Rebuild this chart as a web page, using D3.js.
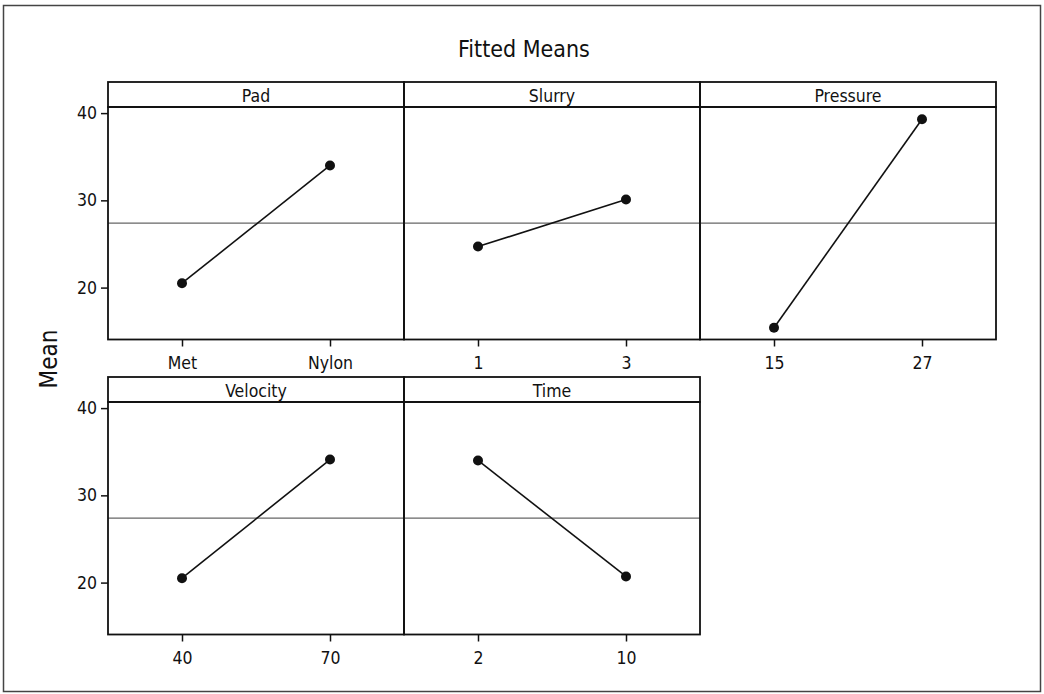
<!DOCTYPE html>
<html>
<head>
<meta charset="utf-8">
<script src="https://cdn.jsdelivr.net/npm/d3@7"></script>
<style>
  html, body { margin: 0; padding: 0; background: #fff; }
  svg text { font-family: "DejaVu Sans Condensed", "DejaVu Sans", Tahoma, sans-serif; font-stretch: condensed; fill: #111; }
</style>
</head>
<body>
<svg id="chart" width="1044" height="694"></svg>
<script>
// Main-effects panels: fitted mean response at the low and high level of each factor
const factors = ["Pad", "Slurry", "Pressure", "Velocity", "Time"];
const levels = [["Met", "Nylon"], ["1", "3"], ["15", "27"], ["40", "70"], ["2", "10"]];
const fittedMeans = [[20.5, 34.0], [24.7, 30.1], [15.4, 39.3], [20.5, 34.1], [34.0, 20.7]];
const grandMean = 27.4;
const yTicks = [20, 30, 40];

const W = 1044, H = 694;
const svg = d3.select("#chart");

// Page frame
svg.append("rect")
  .attr("x", 3.5).attr("y", 5.5).attr("width", 1037).attr("height", 686)
  .attr("fill", "#fff").attr("stroke", "#444").attr("stroke-width", 1.5);

// Title and shared y-axis label
svg.append("text")
  .attr("x", W / 2 + 2).attr("y", 57)
  .attr("text-anchor", "middle").attr("font-size", 23)
  .text("Fitted Means");

svg.append("text")
  .attr("transform", "translate(57,359) rotate(-90)")
  .attr("text-anchor", "middle").attr("font-size", 24)
  .text("Mean");

// Panel grid geometry
const nCols = 3;
const left = 108, panelW = 296;
const stripH = 25;
const rowPlotTop = [107, 402];
const plotH = 232.5;

const y = d3.scaleLinear().domain([14.05, 40.7]).range([plotH, 0]);

factors.forEach((name, i) => {
  const col = i % nCols, row = Math.floor(i / nCols);
  const px = left + col * panelW;
  const py = rowPlotTop[row];

  const g = svg.append("g").attr("transform", `translate(${px},${py})`);

  const x = d3.scalePoint().domain(levels[i]).range([0, panelW]).padding(0.5);

  // Reference line at the overall mean
  g.append("line")
    .attr("x1", 0).attr("x2", panelW)
    .attr("y1", y(grandMean)).attr("y2", y(grandMean))
    .attr("stroke", "#666").attr("stroke-width", 1.2);

  // Line joining the two level means, then the points
  const pts = levels[i].map((lv, k) => [x(lv), y(fittedMeans[i][k])]);
  g.append("path")
    .attr("d", d3.line()(pts))
    .attr("fill", "none").attr("stroke", "#111").attr("stroke-width", 1.6);

  g.selectAll("circle.pt")
    .data(levels[i].map((lv, k) => ({ lv, v: fittedMeans[i][k] })))
    .join("circle")
    .attr("class", "pt")
    .attr("cx", d => x(d.lv)).attr("cy", d => y(d.v))
    .attr("r", 5).attr("fill", "#111");

  // Strip header
  g.append("rect")
    .attr("x", 0).attr("y", -stripH).attr("width", panelW).attr("height", stripH)
    .attr("fill", "none").attr("stroke", "#111").attr("stroke-width", 1.8);
  g.append("text")
    .attr("x", panelW / 2).attr("y", -5)
    .attr("text-anchor", "middle").attr("font-size", 17.5)
    .text(name);

  // Panel frame
  g.append("rect")
    .attr("x", 0).attr("y", 0).attr("width", panelW).attr("height", plotH)
    .attr("fill", "none").attr("stroke", "#111").attr("stroke-width", 1.8);

  // Bottom axis with level labels
  const xAxis = g.append("g")
    .attr("transform", `translate(0,${plotH})`)
    .call(d3.axisBottom(x).tickSize(7).tickPadding(10));
  xAxis.select(".domain").remove();
  xAxis.selectAll("line").attr("stroke", "#111").attr("stroke-width", 1.5);
  xAxis.selectAll("text").attr("font-size", 17.5).attr("font-family", null).attr("fill", "#111");

  // Left axis on the first column only
  if (col === 0) {
    const yAxis = g.append("g")
      .call(d3.axisLeft(y).tickValues(yTicks).tickSize(7).tickPadding(4));
    yAxis.select(".domain").remove();
    yAxis.selectAll("line").attr("stroke", "#111").attr("stroke-width", 1.5);
    yAxis.selectAll("text").attr("font-size", 17.5).attr("font-family", null).attr("fill", "#111");
  }
});
</script>
</body>
</html>
